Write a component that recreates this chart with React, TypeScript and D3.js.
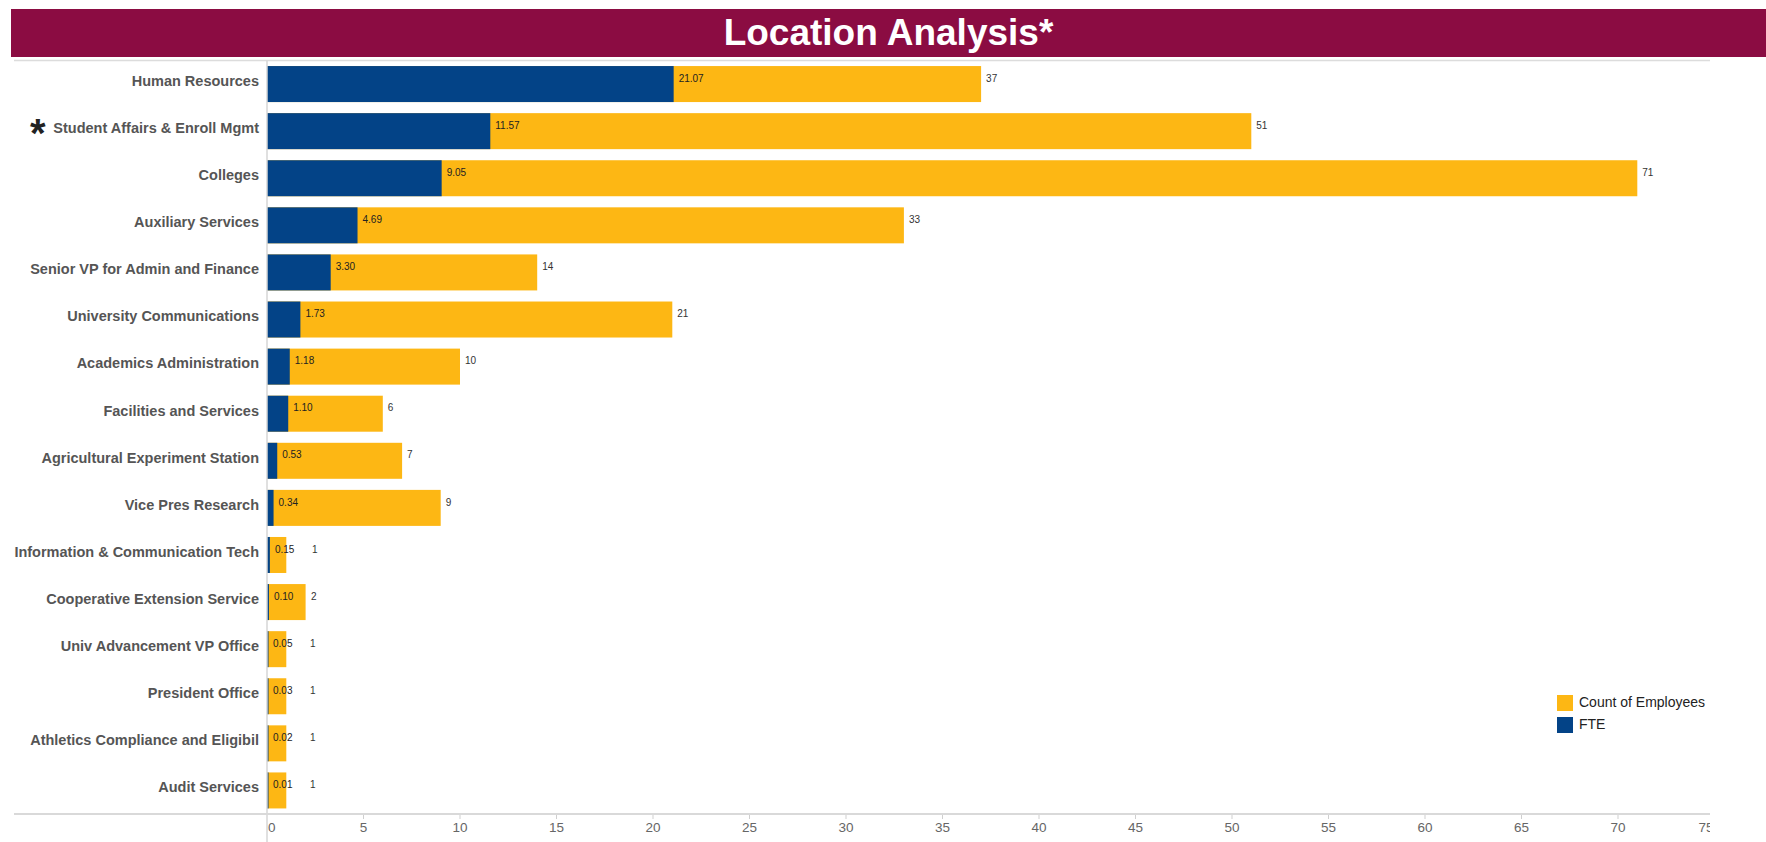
import React from "react";
import * as d3 from "d3";

const categories = [
  "Human Resources",
  "Student Affairs & Enroll Mgmt",
  "Colleges",
  "Auxiliary Services",
  "Senior VP for Admin and Finance",
  "University Communications",
  "Academics Administration",
  "Facilities and Services",
  "Agricultural Experiment Station",
  "Vice Pres Research",
  "Information & Communication Tech",
  "Cooperative Extension Service",
  "Univ Advancement VP Office",
  "President Office",
  "Athletics Compliance and Eligibil",
  "Audit Services",
];
const fteValues = [21.07, 11.57, 9.05, 4.69, 3.3, 1.73, 1.18, 1.1, 0.53, 0.34, 0.15, 0.1, 0.05, 0.03, 0.02, 0.01];
const countValues = [37, 51, 71, 33, 14, 21, 10, 6, 7, 9, 1, 2, 1, 1, 1, 1];
const xTicks = [0, 5, 10, 15, 20, 25, 30, 35, 40, 45, 50, 55, 60, 65, 70, 75];
const starred = ["Student Affairs & Enroll Mgmt"];
const legendItems = [
  { key: "Count of Employees", color: "#FDB714" },
  { key: "FTE", color: "#034387" },
];

const W = 1766;
const H = 842;
const FONT = "'Liberation Sans', Arial, Helvetica, sans-serif";
const MAROON = "#8B0C42";
const YELLOW = "#FDB714";
const BLUE = "#034387";

export default function App() {
  const x0 = 267;
  const plotRight = 1710;
  const x = d3.scaleLinear().domain([0, 75]).range([x0, 1714.5]);
  const y = d3
    .scaleBand<string>()
    .domain(categories)
    .range([60.5, 814])
    .paddingInner(0.2355)
    .paddingOuter(0.118);
  const bw = y.bandwidth();
  const rows = categories.map((c, i) => ({ c, fte: fteValues[i], count: countValues[i] }));
  const last = xTicks.length - 1;

  return (
    <svg
      width={W}
      height={H}
      style={{ position: "absolute", left: 0, top: 0, background: "#fff" }}
      fontFamily={FONT}
    >
      <defs>
        <clipPath id="plotclip">
          <rect x={0} y={0} width={plotRight} height={H} />
        </clipPath>
      </defs>
      {/* title band */}
      <rect x={11} y={9} width={W - 11} height={48} fill={MAROON} />
      <text
        x={(11 + W) / 2}
        y={45}
        textAnchor="middle"
        fill="#fff"
        fontWeight="bold"
        fontSize={37}
      >
        Location Analysis*
      </text>
      {/* top rule */}
      <line x1={14} x2={plotRight} y1={60.5} y2={60.5} stroke="#dcdcdc" strokeWidth={1.5} />
      {/* bars */}
      {rows.map((r) => {
        const yy = y(r.c)!;
        const cy = yy + bw / 2;
        const fteLabelX = Math.max(x(r.fte) + 5, x0 + 6);
        const fteText = r.fte.toFixed(2);
        const fteEnd = fteLabelX + fteText.length * 5.0;
        const countX = Math.max(x(r.count) + 5, fteEnd + 17);
        return (
          <g key={r.c}>
            <rect x={x0} y={yy} width={x(r.count) - x0} height={bw} fill={YELLOW} />
            <rect x={x0} y={yy} width={Math.max(x(r.fte) - x0, 1.5)} height={bw} fill={BLUE} />
            <text x={fteLabelX} y={cy - 5} dominantBaseline="middle" fontSize={10} fill="#222">
              {fteText}
            </text>
            <text x={countX} y={cy - 5} dominantBaseline="middle" fontSize={10} fill="#333">
              {r.count}
            </text>
            <text
              x={x0 - 8}
              y={cy - 2}
              textAnchor="end"
              dominantBaseline="middle"
              fontSize={14.5}
              fontWeight="bold"
              fill="#555"
            >
              {r.c}
            </text>
            {starred.includes(r.c) && (
              <text x={30} y={cy + 15.5} fontSize={40} fontWeight="bold" fill="#222">
                *
              </text>
            )}
          </g>
        );
      })}
      {/* axes */}
      <line x1={x0} x2={x0} y1={60.5} y2={H} stroke="#d6d6d6" strokeWidth={1.5} />
      <line x1={14} x2={plotRight} y1={814} y2={814} stroke="#d9d9d9" strokeWidth={2} />
      <g clipPath="url(#plotclip)">
        {xTicks.map((t, i) => (
          <g key={t}>
            {i > 0 && <line x1={x(t)} x2={x(t)} y1={815} y2={819} stroke="#cfcfcf" strokeWidth={1} />}
            <text
              x={i === 0 ? x(t) + 1 : i === last ? x(t) - 1 : x(t)}
              y={832}
              textAnchor={i === 0 ? "start" : i === last ? "end" : "middle"}
              fontSize={13.5}
              fill="#666"
            >
              {t}
            </text>
          </g>
        ))}
      </g>
      {/* legend */}
      {legendItems.map((l, i) => (
        <g key={l.key} transform={`translate(1557, ${695 + i * 22})`}>
          <rect x={0} y={0} width={16} height={16} fill={l.color} />
          <text x={22} y={8} dominantBaseline="middle" fontSize={14} fill="#222">
            {l.key}
          </text>
        </g>
      ))}
    </svg>
  );
}
